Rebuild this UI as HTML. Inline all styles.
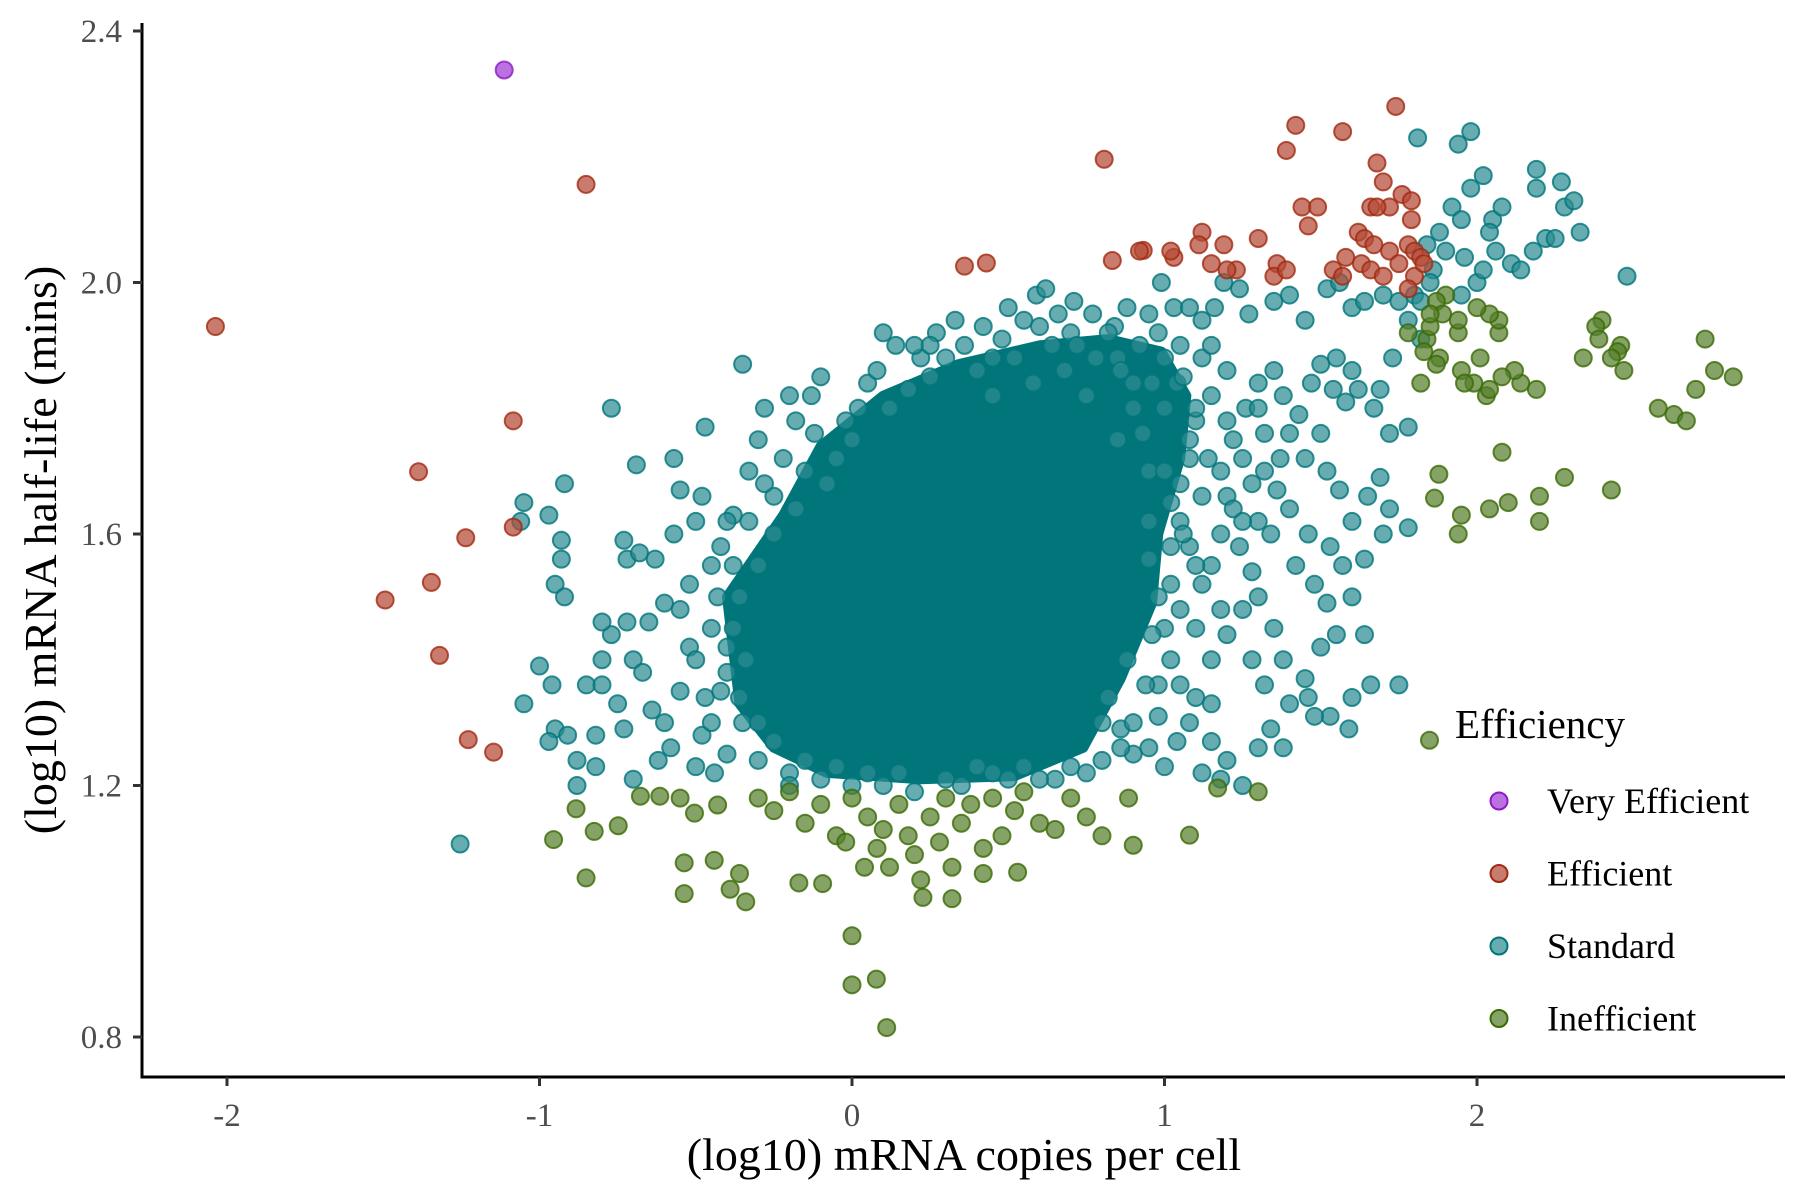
<!DOCTYPE html>
<html><head><meta charset="utf-8">
<style>
html,body{margin:0;padding:0;background:#fff;}
svg{display:block;font-family:"Liberation Serif",serif;}
</style></head>
<body>
<svg id="chart" width="1800" height="1200" viewBox="0 0 1800 1200" xmlns="http://www.w3.org/2000/svg">
<g id="plot"></g>
<g id="axes"></g>
<text x="964" y="1170" font-size="46" text-anchor="middle" fill="#000">(log10) mRNA copies per cell</text>
<text x="0" y="0" font-size="46" text-anchor="middle" fill="#000" transform="translate(56,550) rotate(-90)">(log10) mRNA half-life (mins)</text>
<g id="legend">
<text x="1455" y="738" font-size="41" fill="#000">Efficiency</text>
</g>
</svg>
<script>
const xTicks=[-2,-1,0,1,2];
const xTickLabels=["-2","-1","0","1","2"];
const yTicks=[0.8,1.2,1.6,2.0,2.4];
const yTickLabels=["0.8","1.2","1.6","2.0","2.4"];
const categories=["Very Efficient","Efficient","Standard","Inefficient"];
const veryEfficient=[[-1.113,2.338]];
const efficient=[[-0.851,2.156],[-2.037,1.930],[-1.084,1.780],[-1.387,1.699],[-1.236,1.594],[-1.084,1.611],[-1.346,1.523],[-1.494,1.495],[-1.320,1.407],[-1.228,1.273],[-1.147,1.253],[0.807,2.196],[0.360,2.026],[0.430,2.031],[0.833,2.035],[0.932,2.051],
[1.57,2.24],[1.42,2.25],[1.39,2.21],[1.74,2.28],[1.68,2.19],[1.44,2.12],[1.46,2.09],[1.49,2.12],[1.70,2.16],[1.72,2.12],[1.66,2.12],[1.68,2.12],[1.76,2.14],[1.79,2.13],[1.79,2.10],[1.62,2.08],[1.64,2.07],[1.67,2.06],[1.72,2.05],[1.78,2.06],[1.80,2.05],[1.82,2.04],[1.58,2.04],[1.63,2.03],[1.66,2.02],[1.75,2.03],[1.80,2.01],[1.54,2.02],[1.57,2.01],[1.70,2.01],[1.36,2.03],[1.35,2.01],[1.39,2.02],[1.30,2.07],[1.12,2.08],[1.11,2.06],[1.19,2.06],[1.23,2.02],[1.20,2.02],[1.15,2.03],[1.03,2.04],[1.02,2.05],[0.92,2.05],[1.78,1.99],[1.83,2.03]];
const standardCore=[[-0.36,1.33],[-0.40,1.50],[-0.22,1.63],[-0.10,1.74],[0.10,1.82],[0.34,1.87],[0.60,1.90],[0.82,1.91],[0.99,1.89],[1.07,1.82],[1.05,1.72],[0.98,1.60],[0.96,1.49],[0.86,1.37],[0.74,1.26],[0.52,1.215],[0.22,1.21],[-0.08,1.22],[-0.25,1.26]];
const standard=[[-1.254,1.107],[-1.05,1.65],[-1.06,1.62],[-0.97,1.63],[-0.92,1.68],[-0.93,1.59],[-0.93,1.56],[-0.95,1.52],[-0.92,1.50],[-1.05,1.33],[-1.00,1.39],[-0.96,1.36],[-0.95,1.29],[-0.97,1.27],[-0.91,1.28],[-0.88,1.24],[-0.82,1.23],[-0.88,1.20],[-0.82,1.28],[-0.85,1.36],[-0.80,1.36],[-0.80,1.40],[-0.77,1.44],[-0.80,1.46],[-0.75,1.33],[-0.73,1.29],[-0.70,1.40],[-0.72,1.46],[-0.72,1.56],[-0.73,1.59],[-0.68,1.57],[-0.63,1.56],[-0.65,1.46],[-0.67,1.38],[-0.64,1.32],[-0.60,1.30],[-0.58,1.26],[-0.55,1.35],[-0.52,1.42],[-0.55,1.48],[-0.52,1.52],[-0.60,1.49],[-0.57,1.60],[-0.50,1.62],[-0.48,1.66],[-0.55,1.67],[-0.57,1.72],[-0.47,1.77],[-0.77,1.80],[-0.69,1.71],[-0.35,1.87],[-0.48,1.28],[-0.50,1.23],[-0.44,1.22],[-0.40,1.25],[-0.70,1.21],[-0.62,1.24],[-0.40,1.38],[-0.45,1.45],[-0.42,1.58],[-0.38,1.63],[-0.33,1.70],[-0.28,1.80],[-0.18,1.78],[-0.13,1.82],[-0.10,1.85],[-0.02,1.78],[0.05,1.84],[0.12,1.80],[0.14,1.90],[0.22,1.88],[0.27,1.92],[0.33,1.94],[0.36,1.90],[0.42,1.93],[0.50,1.96],[0.55,1.94],[0.59,1.98],[0.62,1.99],[0.66,1.95],[0.71,1.97],[0.77,1.95],[0.84,1.93],[0.88,1.96],[0.95,1.95],[0.99,2.00],[1.03,1.96],[1.08,1.96],[1.12,1.94],[1.16,1.96],[1.19,2.00],[1.24,1.99],[1.27,1.95],[1.35,1.97],[1.40,1.98],[1.45,1.94],[1.52,1.99],[1.56,2.00],[1.60,1.96],[1.64,1.97],[1.70,1.98],[1.75,1.97],[1.80,1.98],[1.86,2.02],[1.88,2.08],[1.92,2.12],[1.95,2.10],[1.98,2.15],[2.02,2.17],[2.05,2.10],[2.06,2.05],[2.08,2.12],[2.11,2.03],[2.14,2.02],[2.18,2.05],[2.22,2.07],[2.25,2.07],[2.28,2.12],[2.31,2.13],[2.33,2.08],[2.27,2.16],[2.19,2.18],[2.19,2.15],[1.98,2.24],[1.94,2.22],[1.81,2.23],[1.90,2.05],[1.96,2.04],[2.00,2.00],[1.95,1.98],[2.02,2.02],[2.04,2.08],[2.48,2.01],[1.84,2.06],[1.85,2.00],[1.82,1.97],[1.78,1.94],[1.82,1.91],[1.73,1.88],[1.69,1.83],[1.78,1.77],[1.72,1.76],[1.67,1.80],[1.62,1.83],[1.58,1.81],[1.54,1.83],[1.60,1.86],[1.55,1.88],[1.50,1.87],[1.47,1.84],[1.43,1.79],[1.50,1.76],[1.45,1.72],[1.52,1.70],[1.56,1.67],[1.60,1.62],[1.65,1.66],[1.69,1.69],[1.72,1.64],[1.78,1.61],[1.70,1.60],[1.64,1.56],[1.57,1.55],[1.53,1.58],[1.48,1.52],[1.42,1.55],[1.46,1.60],[1.40,1.64],[1.36,1.67],[1.32,1.70],[1.30,1.62],[1.28,1.54],[1.24,1.58],[1.20,1.66],[1.22,1.75],[1.26,1.80],[1.30,1.84],[1.35,1.86],[1.38,1.82],[1.40,1.76],[1.37,1.72],[1.34,1.60],[1.52,1.49],[1.60,1.50],[1.64,1.44],[1.55,1.44],[1.50,1.42],[1.45,1.37],[1.38,1.40],[1.35,1.45],[1.30,1.50],[1.25,1.48],[1.20,1.44],[1.15,1.40],[1.10,1.45],[1.12,1.52],[1.08,1.58],[1.05,1.62],[1.15,1.55],[1.18,1.48],[1.28,1.40],[1.32,1.36],[1.40,1.33],[1.46,1.34],[1.53,1.31],[1.60,1.34],[1.66,1.36],[1.75,1.36],[1.59,1.29],[1.48,1.31],[1.34,1.29],[1.30,1.26],[1.38,1.26],[1.20,1.24],[1.15,1.27],[1.08,1.30],[1.04,1.27],[1.00,1.23],[0.95,1.26],[0.90,1.25],[0.86,1.29],[0.82,1.34],[0.98,1.36],[1.05,1.36],[1.10,1.34],[1.12,1.22],[1.18,1.21],[1.25,1.20],[1.15,1.33],[1.00,1.45],[1.02,1.52],[0.95,1.56],[1.08,1.72],[1.10,1.78],[1.15,1.82],[1.04,1.84],[1.00,1.80],[1.20,1.86],[1.12,1.88],[0.35,1.20],[0.45,1.22],[0.55,1.23],[0.65,1.21],[0.75,1.22],[-0.10,1.21],[0.00,1.20],[0.10,1.20],[0.20,1.19],[-0.20,1.22],[-0.30,1.24],[-0.35,1.30],[-0.38,1.45],[-0.30,1.55],[-0.25,1.66],[-0.15,1.70],[0.00,1.75],[0.25,1.85],[0.45,1.88],[0.70,1.92],[0.85,1.88],[0.90,1.84],[1.05,1.90],[0.95,1.70],[1.02,1.65],[0.88,1.40],[0.80,1.30],
[-0.45,1.30],[-0.42,1.35],[-0.40,1.42],[-0.43,1.50],[-0.38,1.55],[-0.36,1.50],[-0.34,1.40],[-0.36,1.34],[-0.33,1.62],[-0.28,1.68],[-0.22,1.72],[-0.18,1.64],[-0.25,1.60],[-0.12,1.76],[-0.05,1.72],[0.02,1.80],[0.08,1.86],[0.18,1.83],[0.20,1.90],[0.30,1.88],[0.40,1.86],[0.48,1.91],[0.52,1.88],[0.60,1.93],[0.64,1.90],[0.68,1.86],[0.72,1.90],[0.78,1.88],[0.82,1.92],[0.86,1.86],[0.92,1.90],[0.96,1.84],[1.00,1.88],[1.06,1.85],[1.10,1.80],[1.08,1.75],[1.14,1.72],[1.05,1.68],[1.12,1.66],[1.18,1.70],[1.06,1.60],[1.10,1.55],[1.02,1.58],[0.98,1.50],[1.05,1.48],[0.96,1.44],[1.02,1.40],[0.94,1.36],[0.98,1.31],[0.90,1.30],[0.86,1.26],[0.80,1.24],[0.70,1.23],[0.60,1.21],[0.50,1.21],[0.40,1.23],[0.30,1.21],[0.15,1.22],[0.05,1.22],[-0.05,1.23],[-0.15,1.24],[-0.25,1.27],[-0.30,1.30],[-0.20,1.20],[0.25,1.90],[0.10,1.92],[0.45,1.82],[0.58,1.84],[0.90,1.80],[0.85,1.75],[1.20,1.78],[1.25,1.72],[1.22,1.64],[1.18,1.60],[1.25,1.62],[1.28,1.68],[1.32,1.76],[1.30,1.80],[1.15,1.90],[0.98,1.92],[0.75,1.82],[-0.50,1.40],[-0.47,1.34],[-0.45,1.55],[-0.40,1.62],[-0.30,1.75],[-0.20,1.82],[-0.08,1.68],[0.95,1.62],[1.00,1.70],[0.93,1.76]];
const inefficient=[[0,0.961],[0,0.883],[0.078,0.892],[0.111,0.815],[-0.955,1.114],[-0.851,1.053],[-0.825,1.127],[-0.748,1.136],[-0.883,1.163],[-0.537,1.077],[-0.537,1.028],[-0.441,1.081],[-0.39,1.035],[-0.36,1.06],[-0.34,1.015],[-0.504,1.156],[-0.43,1.169],[-0.677,1.183],[-0.615,1.183],[-0.55,1.18],[-0.17,1.045],[-0.094,1.044],[0.227,1.022],[0.32,1.02],[0.53,1.062],[1.08,1.121],[1.17,1.196],[1.3,1.19],[0.9,1.105],[0.885,1.18],[1.848,1.272],
[-0.20,1.19],[-0.15,1.14],[-0.10,1.17],[-0.05,1.12],[0.00,1.18],[0.05,1.15],[0.08,1.10],[0.10,1.13],[0.12,1.07],[0.15,1.17],[0.18,1.12],[0.20,1.09],[0.25,1.15],[0.28,1.11],[0.30,1.18],[0.32,1.07],[0.35,1.14],[0.38,1.17],[0.42,1.10],[0.45,1.18],[0.48,1.12],[0.52,1.16],[0.55,1.19],[0.60,1.14],[0.65,1.13],[0.70,1.18],[0.75,1.15],[0.80,1.12],[-0.25,1.16],[-0.30,1.18],[0.04,1.07],[-0.02,1.11],[0.22,1.05],[0.42,1.06],
[1.878,1.695],[1.864,1.657],[2.01,1.88],[1.95,1.86],[2.03,1.82],[2.08,1.73],[2.04,1.64],[1.95,1.63],[1.94,1.60],[2.10,1.65],[2.20,1.66],[2.28,1.69],[2.20,1.62],[2.43,1.67],[2.47,1.86],[2.58,1.80],[2.63,1.79],[2.67,1.78],[2.70,1.83],[2.76,1.86],[2.82,1.85],[2.73,1.91],[2.46,1.90],[2.40,1.94],[2.38,1.93],[2.39,1.91],[2.45,1.89],[2.43,1.88],[2.34,1.88],[2.19,1.83],[2.14,1.84],[2.12,1.86],[2.08,1.85],[2.04,1.83],[1.99,1.84],[1.96,1.84],[1.88,1.88],[1.84,1.91],[1.85,1.93],[1.83,1.89],[1.87,1.87],[1.82,1.84],[1.94,1.92],[2.07,1.92],[2.07,1.94],[2.04,1.95],[1.94,1.94],[2.00,1.96],[1.90,1.98],[1.87,1.97],[1.89,1.95],[1.85,1.95],[1.78,1.92]];
const X0=142,X1=1785,Y0=23,Y1=1077;
function sx(v){return 852+v*312.5;}
function sy(v){return 31+(2.4-v)*628.75;}
const NS="http://www.w3.org/2000/svg";
const plot=document.getElementById('plot'),axes=document.getElementById('axes'),legend=document.getElementById('legend');
function mk(tag,attrs,parent){const e=document.createElementNS(NS,tag);for(const k in attrs)e.setAttribute(k,attrs[k]);parent.appendChild(e);return e;}
const colors={"Very Efficient":["#a23ad6","#8a1cc4"],"Efficient":["#b44a36","#a12b12"],"Standard":["#2c8c91","#00757b"],"Inefficient":["#567f2c","#3b6a05"]};
const core=mk('polygon',{points:standardCore.map(p=>sx(p[0])+','+sy(p[1])).join(' '),fill:'#00767b',stroke:'#00767b','stroke-width':10,'stroke-linejoin':'round'},plot);


function drawSeries(arr,cat,name){
  const g=mk('g',{},plot);
  
  
  const c=colors[cat];
  arr.forEach(p=>{
    const d=mk('circle',{cx:sx(p[0]),cy:sy(p[1]),r:8.5,fill:c[0],'fill-opacity':0.72,stroke:c[1],'stroke-opacity':0.8,'stroke-width':2},g);
    
    
  });
}
drawSeries(standard,"Standard","standard");
drawSeries(inefficient,"Inefficient","inefficient");
drawSeries(efficient,"Efficient","efficient");
drawSeries(veryEfficient,"Very Efficient","very-efficient");
let l=mk('line',{x1:X0,y1:Y0,x2:X0,y2:Y1+1.5,stroke:'#000','stroke-width':3},axes);


l=mk('line',{x1:X0-1.5,y1:Y1,x2:X1,y2:Y1,stroke:'#000','stroke-width':3},axes);


xTicks.forEach((v,i)=>{
  const t=mk('line',{x1:sx(v),y1:Y1,x2:sx(v),y2:Y1+9,stroke:'#333','stroke-width':3},axes);
  
  
  const tx=mk('text',{x:sx(v),y:1126,'font-size':33,'text-anchor':'middle',fill:'#4d4d4d'},axes);
  tx.textContent=xTickLabels[i];
  
  
});
yTicks.forEach((v,i)=>{
  const t=mk('line',{x1:X0-9,y1:sy(v),x2:X0,y2:sy(v),stroke:'#333','stroke-width':3},axes);
  
  
  const tx=mk('text',{x:122,y:sy(v)+11,'font-size':33,'text-anchor':'end',fill:'#4d4d4d'},axes);
  tx.textContent=yTickLabels[i];
  
  
});
categories.forEach((c,i)=>{
  const y=801+i*72.5;
  const d=mk('circle',{cx:1499,cy:y,r:8.5,fill:colors[c][0],'fill-opacity':0.72,stroke:colors[c][1],'stroke-width':2},legend);
  
  
  const t=mk('text',{x:1547,y:y+12,'font-size':36,fill:'#000'},legend);
  t.textContent=c;
  
  
});
</script>
</body></html>
